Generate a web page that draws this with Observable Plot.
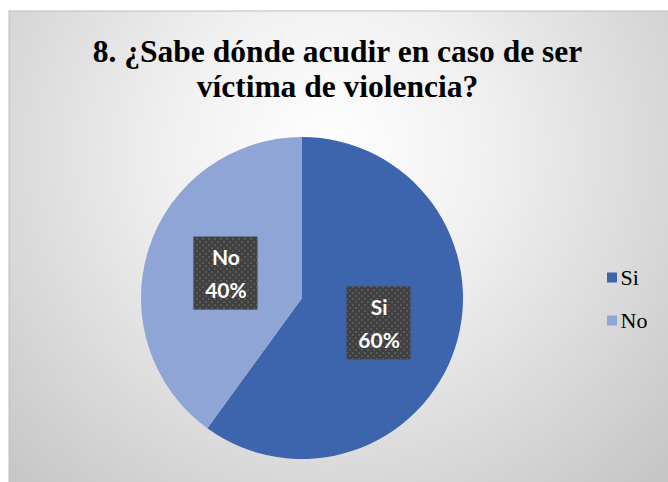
<!DOCTYPE html>
<html>
<head>
<meta charset="utf-8">
<script src="https://cdn.jsdelivr.net/npm/d3@7"></script>
<script src="https://cdn.jsdelivr.net/npm/@observablehq/plot@0.6"></script>
<style>
  html, body { margin: 0; padding: 0; background: #ffffff; }
  #chart svg { display: block; }
</style>
</head>
<body>
<div id="chart"></div>
<script>
const categories = ["Si", "No"];
const values = [60, 40];
const labels = ["60%", "40%"];
const colors = ["#3d65ae", "#8fa5d6"];
const titleLines = ["8. ¿Sabe dónde acudir en caso de ser", "víctima de violencia?"];

const W = 668, H = 482;
const cx = 302, cy = 298, R = 161;

const data = categories.map((c, i) => ({ cat: c, value: values[i], label: labels[i], color: colors[i] }));
const arcs = d3.pie().sort(null).value(d => d.value)(data);
const arcGen = d3.arc().innerRadius(0).outerRadius(R);
const slices = arcs.map(a => {
  const [dx, dy] = arcGen.centroid(a);
  return { ...a.data, arc: a, lx: cx + dx, ly: cy + dy };
});

function pieMark(index, scales) {
  const g = d3.create("svg:g");
  const X = scales.x(cx), Y = scales.y(cy);
  g.attr("transform", `translate(${X},${Y})`);
  g.selectAll("path").data(arcs).join("path")
    .attr("d", arcGen)
    .attr("fill", d => d.data.color)
    .attr("stroke", "none");
  return g.node();
}

const serif = "Liberation Serif, Times New Roman, serif";
const sans = "Lato, Open Sans, sans-serif";

const plot = Plot.plot({
  width: W,
  height: H,
  margin: 0,
  x: { domain: [0, W], range: [0, W], axis: null },
  y: { domain: [0, H], range: [0, H], axis: null },
  marks: [
    Plot.frame({ fill: "url(#bgGrad)", stroke: "#bdbdbd", insetLeft: 8.5, insetTop: 10.5, insetRight: -2, insetBottom: -2 }),
    // title
    Plot.text(titleLines, {
      x: () => 337, y: (d, i) => 51.5 + i * 35,
      text: d => d, fontFamily: serif,
      fontWeight: "bold", fontSize: 31.5, fill: "#000", textAnchor: "middle", lineAnchor: "middle"
    }),
    pieMark,
    // label shadows
    Plot.rect(slices, {
      x1: d => d.lx - 32 + 3, x2: d => d.lx + 32 + 3,
      y1: d => d.ly - 36.5 + 3, y2: d => d.ly + 36.5 + 3,
      fill: "#000", fillOpacity: 0.25, filter: "url(#blur)"
    }),
    Plot.rect(slices, {
      x1: d => d.lx - 32, x2: d => d.lx + 32,
      y1: d => d.ly - 36.5, y2: d => d.ly + 36.5,
      fill: "#404040"
    }),
    Plot.rect(slices, {
      x1: d => d.lx - 32, x2: d => d.lx + 32,
      y1: d => d.ly - 36.5, y2: d => d.ly + 36.5,
      fill: "url(#dots)"
    }),
    Plot.text(slices, {
      x: "lx", y: d => d.ly - 15, text: "cat",
      fill: "#fff", fontWeight: "bold", fontSize: 21,
      fontFamily: sans, lineAnchor: "middle"
    }),
    Plot.text(slices, {
      x: "lx", y: d => d.ly + 18, text: "label",
      fill: "#fff", fontWeight: "bold", fontSize: 21,
      fontFamily: sans, lineAnchor: "middle"
    }),
    // legend
    Plot.rect(slices, {
      x1: () => 607, x2: () => 617,
      y1: (d, i) => 272.5 + i * 43, y2: (d, i) => 282.5 + i * 43,
      fill: "color"
    }),
    Plot.text(slices, {
      x: () => 620, y: (d, i) => 277.5 + i * 43, text: "cat",
      fill: "#000", fontSize: 22, textAnchor: "start", lineAnchor: "middle",
      fontFamily: serif
    })
  ]
});

const defs = d3.create("svg:defs");
const grad = defs.append("radialGradient").attr("id", "bgGrad")
  .attr("gradientUnits", "userSpaceOnUse")
  .attr("cx", 330).attr("cy", 150).attr("r", 460);
grad.append("stop").attr("offset", "0%").attr("stop-color", "#ffffff");
grad.append("stop").attr("offset", "35%").attr("stop-color", "#f0f0f0");
grad.append("stop").attr("offset", "100%").attr("stop-color", "#c6c6c6");
const pat = defs.append("pattern").attr("id", "dots")
  .attr("patternUnits", "userSpaceOnUse").attr("width", 6).attr("height", 6);
pat.append("rect").attr("x", 1).attr("y", 1).attr("width", 2).attr("height", 2).attr("fill", "#595959");
pat.append("rect").attr("x", 4).attr("y", 4).attr("width", 2).attr("height", 2).attr("fill", "#595959");
const f = defs.append("filter").attr("id", "blur").attr("x", "-20%").attr("y", "-20%").attr("width", "140%").attr("height", "140%");
f.append("feGaussianBlur").attr("stdDeviation", 2);
plot.insertBefore(defs.node(), plot.firstChild);

document.getElementById("chart").appendChild(plot);
</script>
</body>
</html>
